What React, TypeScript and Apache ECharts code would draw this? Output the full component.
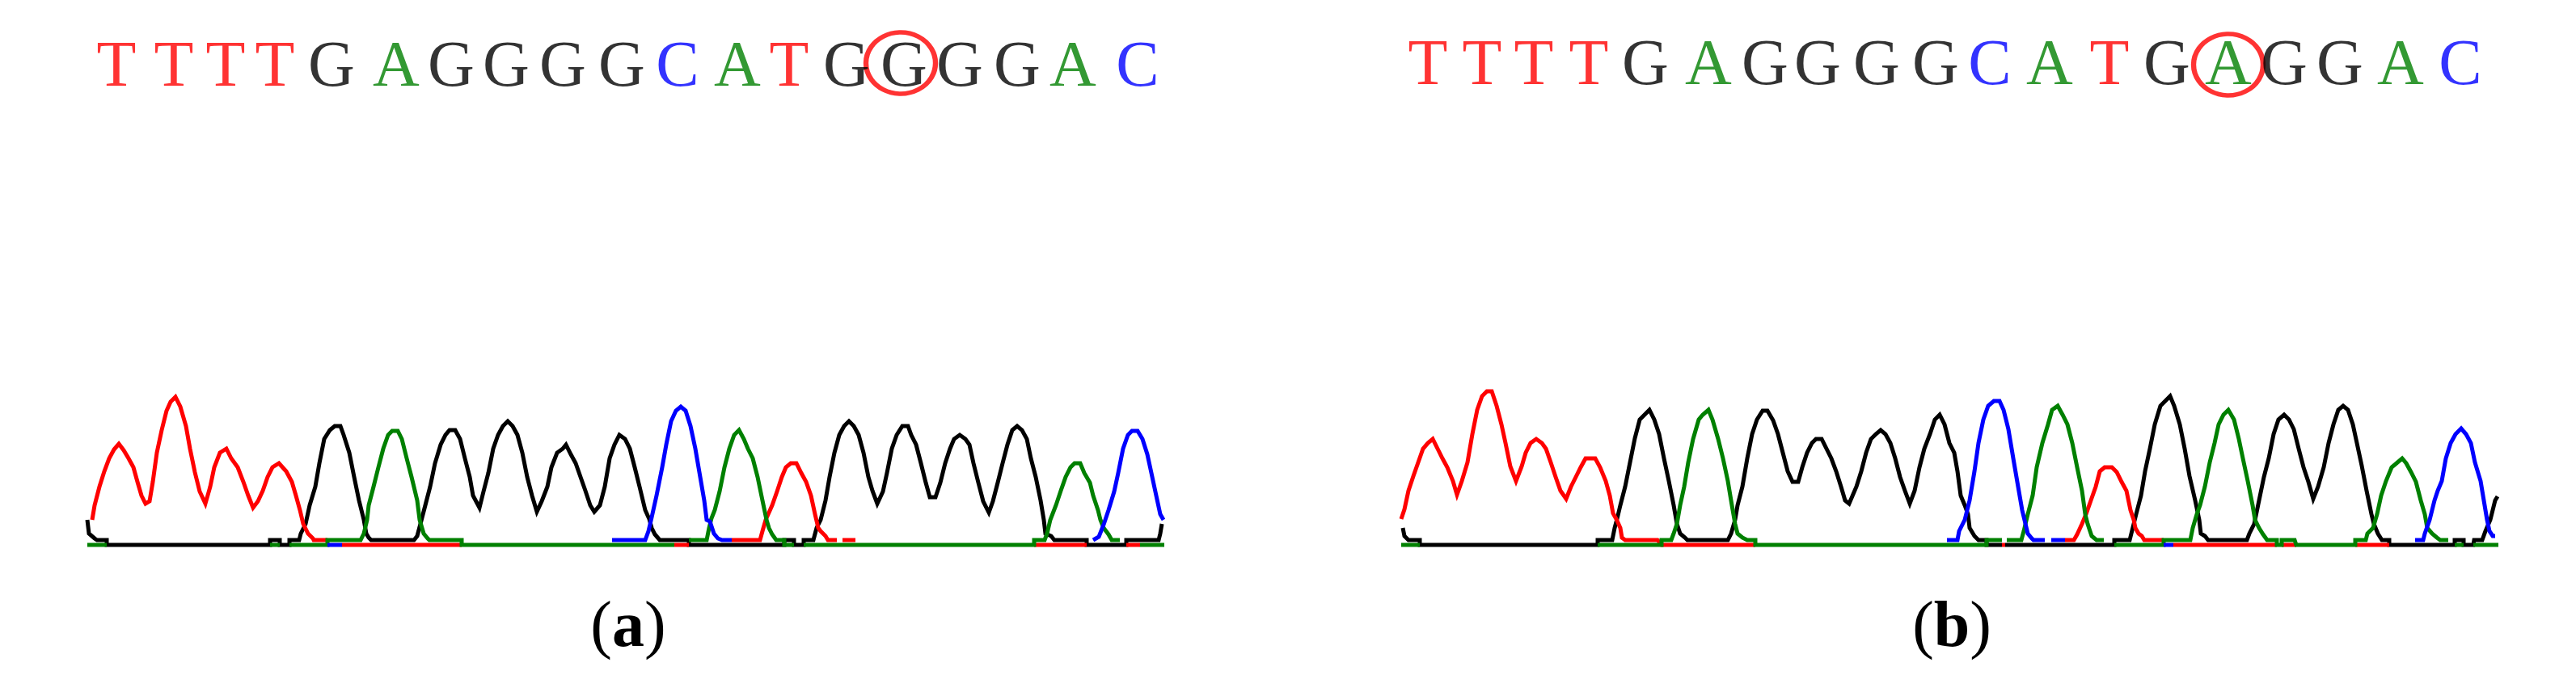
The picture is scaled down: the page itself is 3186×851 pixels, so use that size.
import React, { useEffect, useRef } from "react";
import * as echarts from "echarts";

type Pt = [number, number] | null;

// ---- Panel (a): trace samples [scan, intensity]; null = hidden under another trace
const aRed: Pt[] = [
  [6,31],[9,49],[15,72],[21,91],[27,107],[33,118],[39,125],[45,117],[51,107],[57,96],[62,78],[67,61],[72,51],[77,54],[81,78],[86,114],[92,142],[98,166],[103,177],[109,183],[115,171],[122,147],[127,119],[133,90],[139,66],[146,51],[152,72],[157,96],[164,114],[172,119],[178,107],[186,96],[193,78],[199,61],[205,46],[211,54],[217,67],[223,84],[229,96],[237,101],[246,91],[253,78],[258,61],[263,43],[267,26],[273,14],[279,8],[280,6],[297,6],
  null,[315,0],[463,0],null,[726,0],[744,0],null,
  [797,6],[832,6],[835,17],[839,31],[847,49],[853,66],[859,84],[864,96],[870,101],[877,101],[883,89],[889,78],[895,61],[900,38],[904,21],[907,17],[913,11],[916,6],[927,6],
  null,[934,6],[950,6],null,[1171,0],[1236,0],null,[1285,0],[1302,0],
];
const aBlack: Pt[] = [
  [0,31],[2,14],[9,8],[12,6],[24,6],[24,0],[226,0],[226,6],[238,6],[238,0],[250,0],[250,6],[262,6],[264,14],[270,26],[275,49],[282,72],[287,101],[293,131],[300,142],[306,147],[313,147],[317,136],[324,114],[330,84],[336,55],[342,31],[345,14],[348,9],[351,6],[404,6],[408,11],[412,26],[418,49],[424,72],[430,101],[437,124],[443,136],[448,142],[455,142],[461,131],[467,107],[473,84],[477,61],[485,46],[490,66],[496,89],[502,119],[508,136],[514,147],[520,153],[526,147],[532,136],[538,114],[544,84],[550,61],[556,41],[562,54],[569,72],[574,96],[581,114],[588,119],[592,124],[598,112],[604,101],[610,84],[616,67],[622,49],[627,41],[634,49],[640,72],[646,107],[652,124],[658,136],[665,131],[671,119],[677,96],[683,72],[690,43],[695,32],[698,21],[702,13],[708,6],[744,6],[744,0],[862,0],[862,6],[874,6],[874,0],[886,0],[886,6],[898,6],[902,21],[907,31],[913,55],[918,84],[924,114],[930,136],[936,147],[942,153],[948,147],[954,136],[960,114],[966,84],[971,67],[977,51],[984,66],[989,89],[995,119],[1001,136],[1008,147],[1015,147],[1019,136],[1025,124],[1031,101],[1037,77],[1042,59],[1049,59],[1055,77],[1061,101],[1067,119],[1072,131],[1079,136],[1086,131],[1091,124],[1096,101],[1102,77],[1108,54],[1115,40],[1120,54],[1126,77],[1132,101],[1138,124],[1144,142],[1150,147],[1156,142],[1162,131],[1167,107],[1173,84],[1179,55],[1183,31],[1185,14],[1192,11],[1196,6],[1236,6],[1236,0],[1285,0],[1285,6],[1325,6],[1327,14],[1329,26],
];
const aGreen: Pt[] = [
  [0,0],[24,0],null,[226,0],[238,0],null,
  [250,0],[297,0],[297,6],[338,6],[342,14],[346,31],[348,49],[354,72],[360,96],[366,119],[372,136],[377,141],[384,141],[389,131],[395,107],[401,84],[408,55],[411,31],[416,14],[421,8],[423,6],[463,6],[463,0],[726,0],
  null,[744,6],[766,6],[769,21],[772,33],[776,43],[782,66],[788,96],[794,119],[800,136],[806,142],[812,131],[817,119],[823,107],[829,84],[835,55],[840,31],[843,21],[847,13],[852,6],[862,6],[862,0],[874,0],
  null,[886,0],[1171,0],[1171,6],[1184,6],[1187,14],[1191,31],[1198,49],[1204,67],[1210,84],[1216,96],[1221,101],[1228,101],[1233,89],[1240,77],[1244,61],[1250,43],[1253,31],[1257,21],[1263,13],[1267,6],[1277,6],
  null,[1302,0],[1332,0],
];
const aBlue: Pt[] = [
  [297,0],[315,0],null,
  [649,6],[690,6],[694,17],[698,34],[704,61],[711,96],[716,124],[722,153],[728,166],[734,171],[740,166],[746,147],[752,119],[758,84],[763,55],[766,31],[770,29],[775,14],[780,8],[785,6],[797,6],
  null,[1244,6],[1251,10],[1257,25],[1263,43],[1270,66],[1275,89],[1281,119],[1287,136],[1292,141],[1299,141],[1305,131],[1311,112],[1316,89],[1322,61],[1327,38],[1331,31],
];

// ---- Panel (b)
const bRed: Pt[] = [
  [0,32],[4,44],[9,67],[15,85],[21,102],[27,119],[33,126],[39,131],[45,119],[51,107],[57,96],[64,79],[69,62],[75,79],[82,102],[88,137],[94,167],[100,184],[106,190],[112,190],[118,172],[124,149],[129,126],[135,97],[142,79],[149,97],[154,114],[160,126],[167,131],[174,126],[179,119],[185,102],[191,84],[197,67],[204,57],[210,72],[216,84],[222,96],[228,107],[234,107],[240,107],[246,96],[253,79],[258,61],[262,39],[266,32],[271,21],[273,9],[277,6],[317,6],[322,0],[438,0],
  null,[743,0],[747,0],null,
  [821,6],[832,6],[836,13],[842,26],[847,38],[853,55],[859,72],[864,91],[870,96],[879,96],[885,90],[891,78],[897,67],[902,43],[906,31],[908,21],[912,14],[916,11],[919,6],[943,6],
  null,[955,0],[1083,0],null,[1089,0],[1107,0],null,[1180,0],[1222,0],
];
const bBlack: Pt[] = [
  [2,21],[4,11],[9,6],[23,6],[23,0],[243,0],[243,6],[261,6],[264,21],[267,32],[271,49],[277,72],[283,102],[289,132],[295,155],[301,161],[307,167],[313,155],[319,137],[325,107],[331,79],[337,49],[341,26],[345,14],[351,9],[354,6],[404,6],[408,14],[413,31],[416,49],[422,72],[428,107],[434,137],[440,155],[447,166],[453,166],[460,154],[466,137],[472,114],[478,91],[484,78],[491,78],[496,96],[502,114],[508,126],[513,131],[520,131],[526,119],[532,107],[538,91],[544,72],[549,55],[554,51],[563,72],[569,91],[575,114],[581,131],[587,137],[593,142],[599,137],[605,126],[611,107],[617,84],[623,67],[629,51],[635,67],[641,96],[647,119],[654,137],[660,155],[666,161],[672,149],[678,126],[684,114],[688,91],[692,61],[697,49],[701,38],[703,21],[709,11],[714,6],[724,6],[724,0],[743,0],
  null,[747,0],[882,0],[882,6],[901,6],[903,14],[906,26],[909,38],[915,61],[920,91],[926,119],[932,149],[939,172],[945,178],[951,184],[956,172],[963,149],[969,119],[975,85],[982,55],[987,31],[989,14],[994,11],[998,6],[1046,6],[1049,14],[1055,26],[1061,55],[1067,84],[1073,107],[1079,137],[1085,155],[1092,161],[1098,155],[1104,143],[1110,119],[1116,96],[1122,78],[1128,57],[1134,72],[1141,96],[1147,126],[1153,149],[1159,167],[1165,172],[1171,167],[1177,149],[1182,126],[1188,98],[1194,67],[1200,38],[1203,26],[1208,14],[1213,6],[1222,6],[1222,0],[1303,0],[1303,6],[1314,6],[1314,0],[1326,0],[1327,6],[1337,6],[1341,17],[1347,31],[1353,55],[1356,60],
];
const bGreen: Pt[] = [
  [0,0],[23,0],null,
  [243,0],[322,0],[322,6],[334,6],[337,14],[341,26],[345,49],[350,72],[355,102],[361,131],[368,155],[373,161],[380,167],[385,155],[392,131],[398,107],[404,79],[409,49],[413,26],[416,14],[422,9],[428,6],[438,6],[438,0],[724,0],[724,6],[743,6],
  null,[749,6],[767,6],[770,17],[775,38],[781,61],[786,96],[793,126],[800,149],[805,167],[812,172],[818,161],[824,149],[830,126],[836,96],[842,67],[846,38],[849,26],[854,11],[860,6],[869,6],
  null,[882,0],[943,0],[943,6],[976,6],[979,21],[984,38],[988,49],[994,72],[1000,102],[1006,126],[1011,149],[1017,161],[1023,167],[1030,155],[1036,131],[1041,107],[1047,79],[1053,49],[1056,31],[1061,21],[1066,13],[1071,6],[1083,6],[1083,0],[1089,0],[1089,6],[1105,6],[1107,0],[1180,0],[1180,6],[1193,6],[1195,14],[1202,21],[1207,38],[1212,61],[1218,79],[1225,96],[1231,101],[1238,107],[1243,101],[1249,90],[1255,78],[1261,55],[1266,38],[1269,21],[1275,14],[1281,9],[1285,6],[1295,6],
  null,[1303,0],[1314,0],null,[1326,0],[1357,0],
];
const bBlue: Pt[] = [
  [675,6],[688,6],[690,17],[697,31],[703,55],[709,91],[714,126],[720,155],[726,172],[733,178],[740,178],[745,167],[751,143],[757,107],[763,72],[768,43],[775,14],[780,8],[782,6],[796,6],
  null,[804,6],[821,6],null,[943,0],[955,0],null,
  [1254,6],[1264,6],[1266,14],[1272,31],[1278,55],[1282,67],[1287,79],[1292,107],[1298,126],[1304,137],[1311,144],[1317,137],[1323,126],[1328,102],[1335,79],[1340,49],[1343,31],[1346,17],[1350,11],[1353,11],
];

// ---- Base calls
const seqA = "TTTTGAGGGGCATGGGGAC".split("");
const posA = [36, 107, 171, 232, 302, 382, 450, 518, 588, 661, 730, 804, 868, 939, 1010, 1079, 1150, 1219, 1299];
const seqB = "TTTTGAGGGGCATGAGGAC".split("");
const posB = [33, 100, 164, 232, 302, 380, 450, 515, 588, 661, 728, 802, 876, 947, 1023, 1092, 1161, 1236, 1310];
const mutA = 14; // index of circled base
const mutB = 14;
const captions = ["a", "b"];

const baseColor: Record<string, string> = { T: "#ff0000", G: "#000000", A: "#008000", C: "#0000ff" };

const toData = (arr: Pt[]) => arr.map((p) => (p === null ? ["-", "-"] : p));

export default function App() {
  const ref = useRef<HTMLDivElement>(null);
  useEffect(() => {
    if (!ref.current) return;
    const chart = echarts.init(ref.current, undefined, { renderer: "svg" });

    const trace = (data: Pt[], color: string, idx: number) => ({
      type: "line",
      xAxisIndex: idx,
      yAxisIndex: idx,
      data: toData(data),
      showSymbol: false,
      symbol: "none",
      connectNulls: false,
      clip: false,
      silent: true,
      lineStyle: { color, width: 5, join: "miter" },
    });

    const letters = (seq: string[], pos: number[], y: number, idx: number) => ({
      type: "scatter",
      xAxisIndex: idx,
      yAxisIndex: idx,
      symbolSize: 1,
      clip: false,
      silent: true,
      itemStyle: { color: "rgba(0,0,0,0)" },
      data: seq.map((b, i) => ({
        name: b,
        value: [pos[i], y],
        label: { color: baseColor[b] },
      })),
      label: {
        show: true,
        position: "inside",
        formatter: "{b}",
        fontFamily: "Liberation Serif",
        fontSize: 80,
        textBorderColor: "inherit",
        textBorderWidth: 0,
      },
    });

    const ring = (x: number, y: number, idx: number) => ({
      type: "scatter",
      xAxisIndex: idx,
      yAxisIndex: idx,
      clip: false,
      silent: true,
      symbol: "circle",
      symbolSize: [86, 76],
      itemStyle: { color: "rgba(0,0,0,0)", borderColor: "#ff0000", borderWidth: 6 },
      data: [[x, y]],
    });

    const caption = (t: string, x: number) => ({
      type: "text",
      x,
      y: 772,
      style: {
        text: `{p|(}{b|${t}}{p|)}`,
        align: "center",
        verticalAlign: "middle",
        rich: {
          p: { fontFamily: "Liberation Serif", fontSize: 80, fill: "#000" },
          b: { fontFamily: "Liberation Serif", fontSize: 80, fontWeight: "bold", fill: "#000" },
        },
      },
    });

    chart.setOption({
      animation: false,
      backgroundColor: "#ffffff",
      grid: [
        { left: 108, top: 40, width: 1332, height: 634 },
        { left: 1733, top: 40, width: 1357, height: 634 },
      ],
      xAxis: [
        { type: "value", gridIndex: 0, min: 0, max: 1332, show: false },
        { type: "value", gridIndex: 1, min: 0, max: 1357, show: false },
      ],
      yAxis: [
        { type: "value", gridIndex: 0, min: 0, max: 634, show: false },
        { type: "value", gridIndex: 1, min: 0, max: 634, show: false },
      ],
      series: [
        trace(aBlack, "#000000", 0),
        trace(aRed, "#ff0000", 0),
        trace(aGreen, "#008000", 0),
        trace(aBlue, "#0000ff", 0),
        trace(bBlack, "#000000", 1),
        trace(bRed, "#ff0000", 1),
        trace(bGreen, "#008000", 1),
        trace(bBlue, "#0000ff", 1),
        letters(seqA, posA, 595, 0),
        letters(seqB, posB, 597, 1),
        ring(posA[mutA] - 4, 596, 0),
        ring(posB[mutB], 594, 1),
      ],
      graphic: [caption(captions[0], 777), caption(captions[1], 2414)],
    });
    return () => chart.dispose();
  }, []);

  return (
    <div
      ref={ref}
      style={{ position: "fixed", left: 0, top: 0, width: 3186, height: 851, background: "#fff" }}
    />
  );
}
